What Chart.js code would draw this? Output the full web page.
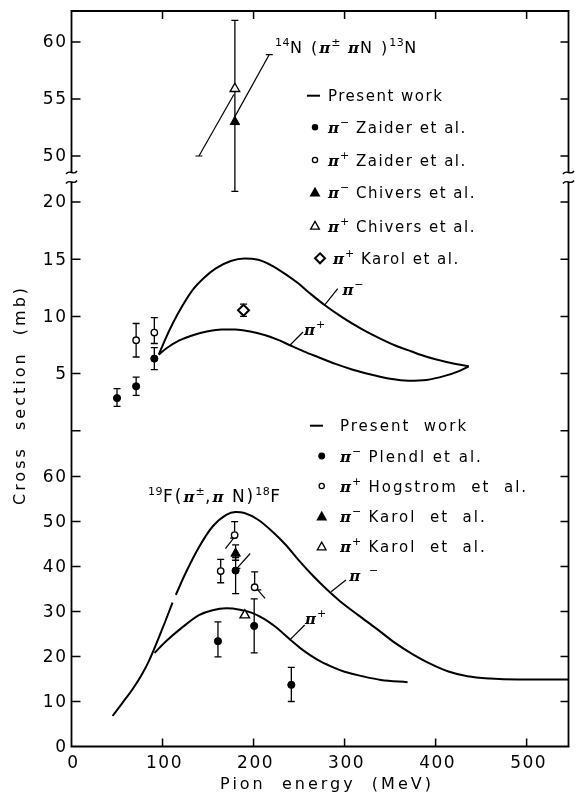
<!DOCTYPE html>
<html lang="en">
<head>
<meta charset="UTF-8">
<title>Pion knockout cross sections</title>
<script src="https://cdn.jsdelivr.net/npm/chart.js"></script>
<style>
  html, body { margin: 0; padding: 0; background: #fff; }
  #wrap { width: 576px; height: 795px; }
</style>
</head>
<body>
<div id="wrap"><canvas id="c"></canvas></div>
<script>
// ---- 14N(pi, piN)13N : present work curves (MeV, mb) ----
const nMinusE = [95.9, 103, 111.2, 122, 133, 146, 158.5, 175, 190, 205, 220, 235, 249, 263, 278, 298, 318, 337, 355, 373, 391, 413, 436.4];
const nMinusS = [6.66, 8.0, 9.38, 10.95, 12.3, 13.4, 14.2, 14.85, 15.07, 14.95, 14.45, 13.7, 12.9, 11.95, 11.0, 9.9, 8.94, 8.15, 7.48, 6.95, 6.45, 6.0, 5.64];
const nPlusE = [95.9, 104, 118.5, 135, 150, 165, 180, 195, 213, 227, 240, 255, 270, 290, 310, 330, 350, 370, 390, 410, 425, 436.4];
const nPlusS = [6.66, 7.2, 7.9, 8.4, 8.7, 8.85, 8.85, 8.7, 8.35, 7.95, 7.48, 6.95, 6.47, 5.85, 5.32, 4.9, 4.55, 4.38, 4.45, 4.8, 5.2, 5.64];
// present work, upper (broken) section
const nWorkAE = [140, 178.4];
const nWorkAS = [50.0, 55.4];
const nWorkBE = [217.3, 178.4];
const nWorkBS = [58.9, 53.3];
// other measurements, 14N
const zaiderMinusE = [50, 71, 91];
const zaiderMinusS = [2.86, 3.89, 6.31];
const zaiderMinusLo = [2.14, 3.10, 5.35];
const zaiderMinusHi = [3.69, 4.70, 7.27];
const zaiderPlusE = [71, 91];
const zaiderPlusS = [7.92, 8.59];
const zaiderPlusLo = [6.45, 7.63];
const zaiderPlusHi = [9.38, 9.90];
const chiversMinusE = [179.5];
const chiversMinusS = [53.0];
const chiversMinusLo = [46.9];
const chiversMinusHi = [61.9];
const chiversPlusE = [179.5];
const chiversPlusS = [55.9];
const karolNPlusE = [189];
const karolNPlusS = [10.54];
const karolNPlusLo = [10.0];
const karolNPlusHi = [11.07];

// ---- 19F(pi, piN)18F ----
const fMinusAE = [45.1, 56, 67.6, 77, 85.5, 100.3, 111];
const fMinusAS = [6.78, 9.7, 12.9, 15.9, 19.2, 26.4, 32.0];
const fMinusBE = [114.6, 125, 140, 155, 170, 180, 190, 205, 220, 235, 250, 265, 280, 295, 315, 335, 355, 375, 395, 415, 435, 460, 490, 547];
const fMinusBS = [33.7, 38.4, 44.3, 48.9, 51.5, 52.1, 51.9, 50.4, 47.9, 44.9, 41.3, 38.0, 35.0, 32.3, 29.2, 26.2, 23.1, 20.5, 18.3, 16.6, 15.6, 15.1, 14.9, 14.9];
const fPlusE = [91.2, 105, 120, 140, 155, 170, 185, 198.4, 212, 224, 240, 255, 270, 285, 300, 320, 340, 369.2];
const fPlusS = [20.8, 23.6, 26.2, 29.2, 30.3, 30.7, 30.4, 29.7, 28.3, 26.6, 23.8, 21.3, 19.3, 17.8, 16.6, 15.6, 14.8, 14.3];
const plendlE = [160.9, 180.3, 200.7, 241.5];
const plendlS = [23.4, 39.1, 26.8, 13.7];
const plendlLo = [19.9, 34.0, 20.8, 10.0];
const plendlHi = [27.7, 42.0, 32.8, 17.6];
const hogstromE = [163.9, 179.2, 201.2];
const hogstromS = [39.0, 47.0, 35.4];
const hogstromLo = [36.4, 47.0, 35.4];
const hogstromHi = [41.6, 50.0, 38.8];
const karolFMinusE = [180.3];
const karolFMinusS = [42.9];
const karolFMinusLo = [41.4];
const karolFMinusHi = [44.8];
const karolFPlusE = [190.4];
const karolFPlusS = [29.2];
// short present-work strokes beside the points
const tail1E = [178.1, 169.1];
const tail1S = [46.3, 44.0];
const tail2E = [181.7, 196.3];
const tail2S = [39.6, 42.9];
const tail3E = [204.6, 212.6];
const tail3S = [34.8, 32.9];

// ---- axes ----
const xTicks = [0, 100, 200, 300, 400, 500];
const topTicks = [50, 55, 60];
const midTicks = [0, 5, 10, 15, 20];
const midLabels = ['', '5', '10', '15', '20'];
const lowTicks = [0, 10, 20, 30, 40, 50, 60];

const pts = (xs, ys) => xs.map((x, i) => ({ x: x, y: ys[i] }));

function curve(xs, ys, axis) {
  return { data: pts(xs, ys), yAxisID: axis, borderColor: '#000', borderWidth: 2,
    pointRadius: 0, cubicInterpolationMode: 'monotone', fill: false };
}
function stroke(xs, ys, axis) {
  return { data: pts(xs, ys), yAxisID: axis, borderColor: '#000', borderWidth: 1.2,
    pointStyle: 'line', pointRadius: [3.5, 0], pointBorderWidth: 1.2,
    pointBorderColor: '#000', fill: false };
}
function marks(xs, ys, axis, style, filled, r, lo, hi) {
  return { data: pts(xs, ys), yAxisID: axis, showLine: false, pointStyle: style,
    pointRadius: r, pointBorderWidth: filled ? 1 : 1.4, pointBorderColor: '#000',
    pointBackgroundColor: filled ? '#000' : '#fff', errLo: lo, errHi: hi };
}

const datasets = [
  marks(chiversPlusE, chiversPlusS, 'yTop', 'triangle', false, 5.5),
  marks(chiversMinusE, chiversMinusS, 'yTop', 'triangle', true, 5.5, chiversMinusLo, chiversMinusHi),
  marks(zaiderMinusE, zaiderMinusS, 'yMid', 'circle', true, 3.6, zaiderMinusLo, zaiderMinusHi),
  marks(zaiderPlusE, zaiderPlusS, 'yMid', 'circle', false, 3.2, zaiderPlusLo, zaiderPlusHi),
  marks(karolNPlusE, karolNPlusS, 'yMid', 'rectRot', false, 5.5, karolNPlusLo, karolNPlusHi),
  marks(karolFPlusE, karolFPlusS, 'yLow', 'triangle', false, 5.5),
  marks(karolFMinusE, karolFMinusS, 'yLow', 'triangle', true, 5.5, karolFMinusLo, karolFMinusHi),
  marks(hogstromE, hogstromS, 'yLow', 'circle', false, 3.2, hogstromLo, hogstromHi),
  marks(plendlE, plendlS, 'yLow', 'circle', true, 3.6, plendlLo, plendlHi),
  stroke(nWorkAE, nWorkAS, 'yTop'),
  stroke(nWorkBE, nWorkBS, 'yTop'),
  stroke(tail1E, tail1S, 'yLow'),
  stroke(tail2E, tail2S, 'yLow'),
  stroke(tail3E, tail3S, 'yLow'),
  curve(nMinusE, nMinusS, 'yMid'),
  curve(nPlusE, nPlusS, 'yMid'),
  curve(fMinusAE, fMinusAS, 'yLow'),
  curve(fMinusBE, fMinusBS, 'yLow'),
  curve(fPlusE, fPlusS, 'yLow')
];
datasets[4].pointBorderWidth = 2;

const SANS = 'DejaVu Sans';
const PI_FONT = 'bold italic 15px "DejaVu Serif"';

// draw text runs: n = normal, p = pi, s = superscript
function rich(ctx, x, y, parts, size, spacing) {
  ctx.textBaseline = 'alphabetic';
  ctx.textAlign = 'left';
  for (const [txt, kind] of parts) {
    let dy = 0;
    if (kind === 'p') { ctx.font = PI_FONT; ctx.letterSpacing = '0px'; }
    else if (kind === 's') { ctx.font = '11px ' + SANS; ctx.letterSpacing = '0.5px'; dy = -7; }
    else { ctx.font = size + 'px ' + SANS; ctx.letterSpacing = spacing + 'px'; }
    ctx.fillText(txt, x, y + dy);
    x += ctx.measureText(txt).width + (kind === 'p' ? 1 : 0);
  }
  ctx.letterSpacing = '0px';
}

function squiggle(ctx, x, y) {
  ctx.beginPath();
  ctx.moveTo(x - 5.5, y + 1.5);
  ctx.bezierCurveTo(x - 2, y - 4, x + 2, y + 4, x + 5.5, y - 1.5);
  ctx.stroke();
}

function sym(ctx, style, x, y, r, filled) {
  ctx.save();
  ctx.fillStyle = filled ? '#000' : '#fff';
  ctx.strokeStyle = '#000';
  ctx.lineWidth = style === 'diamond' ? 2 : 1.3;
  ctx.beginPath();
  if (style === 'circle') ctx.arc(x, y, r, 0, Math.PI * 2);
  else if (style === 'tri') { ctx.moveTo(x, y - r); ctx.lineTo(x + r * 0.95, y + r * 0.7); ctx.lineTo(x - r * 0.95, y + r * 0.7); ctx.closePath(); }
  else if (style === 'diamond') { ctx.moveTo(x, y - r); ctx.lineTo(x + r, y); ctx.lineTo(x, y + r); ctx.lineTo(x - r, y); ctx.closePath(); }
  else if (style === 'dash') { ctx.moveTo(x - 7, y); ctx.lineTo(x + 6, y); ctx.lineWidth = 2; }
  if (style !== 'dash') ctx.fill();
  ctx.stroke();
  ctx.restore();
}

const errorBars = {
  id: 'errorBars',
  beforeDatasetsDraw(chart) {
    const ctx = chart.ctx;
    ctx.save();
    ctx.strokeStyle = '#000';
    ctx.lineWidth = 1.3;
    chart.data.datasets.forEach((ds, i) => {
      if (!ds.errLo) return;
      const meta = chart.getDatasetMeta(i);
      const ys = chart.scales[ds.yAxisID];
      meta.data.forEach((el, j) => {
        const x = el.x;
        const v = ds.data[j].y;
        const a = ys.getPixelForValue(ds.errLo[j]);
        const b = ys.getPixelForValue(ds.errHi[j]);
        ctx.beginPath();
        ctx.moveTo(x, a); ctx.lineTo(x, b);
        if (ds.errLo[j] < v) { ctx.moveTo(x - 3.5, a); ctx.lineTo(x + 3.5, a); }
        if (ds.errHi[j] > v) { ctx.moveTo(x - 3.5, b); ctx.lineTo(x + 3.5, b); }
        ctx.stroke();
      });
    });
    ctx.restore();
  }
};

const frame = {
  id: 'frame',
  afterDraw(chart) {
    const ctx = chart.ctx;
    const a = chart.chartArea;
    const sx = chart.scales.x, sT = chart.scales.yTop, sM = chart.scales.yMid, sL = chart.scales.yLow;
    const brk = sT.bottom;
    ctx.save();
    ctx.strokeStyle = '#000';
    ctx.fillStyle = '#000';
    ctx.lineWidth = 1.8;
    ctx.beginPath();
    // left and right sides, interrupted at the break
    for (const x of [a.left, a.right]) {
      ctx.moveTo(x, a.top); ctx.lineTo(x, brk - 4.5);
      ctx.moveTo(x, brk + 5); ctx.lineTo(x, a.bottom);
    }
    ctx.moveTo(a.left - 1, a.top); ctx.lineTo(a.right + 1, a.top);
    ctx.moveTo(a.left - 1, a.bottom); ctx.lineTo(a.right + 1, a.bottom);
    ctx.stroke();
    ctx.lineWidth = 1.4;
    for (const x of [a.left, a.right]) {
      squiggle(ctx, x, brk - 4.5);
      squiggle(ctx, x, brk + 5);
    }
    // ticks, all pointing inwards
    ctx.lineWidth = 1.5;
    ctx.beginPath();
    xTicks.forEach(v => {
      if (v === 0) return;
      const x = sx.getPixelForValue(v);
      ctx.moveTo(x, a.top); ctx.lineTo(x, a.top + 8);
      ctx.moveTo(x, a.bottom); ctx.lineTo(x, a.bottom - 8);
    });
    const yt = [];
    topTicks.forEach(v => yt.push([sT.getPixelForValue(v), String(v)]));
    midTicks.forEach((v, i) => yt.push([sM.getPixelForValue(v), midLabels[i]]));
    lowTicks.forEach(v => yt.push([sL.getPixelForValue(v), String(v)]));
    yt.forEach(([y]) => {
      if (Math.abs(y - a.bottom) < 1) return;
      ctx.moveTo(a.left, y); ctx.lineTo(a.left + 9, y);
      ctx.moveTo(a.right, y); ctx.lineTo(a.right - 8, y);
    });
    ctx.stroke();

    // tick labels
    ctx.font = '17px ' + SANS;
    ctx.letterSpacing = '1.5px';
    ctx.textBaseline = 'middle';
    ctx.textAlign = 'right';
    yt.forEach(([y, t]) => { if (t) ctx.fillText(t, a.left - 4, y + 1); });
    ctx.textAlign = 'center';
    xTicks.forEach(v => ctx.fillText(String(v), sx.getPixelForValue(v) + 2, a.bottom + 17));

    // axis titles
    ctx.font = '16px ' + SANS;
    ctx.letterSpacing = '3px';
    ctx.fillText('Pion  energy  (MeV)', 327, 785);
    ctx.save();
    ctx.translate(21, 395);
    ctx.rotate(-Math.PI / 2);
    ctx.letterSpacing = '3px';
    ctx.fillText('Cross  section  (mb)', 0, 0);
    ctx.restore();
    ctx.letterSpacing = '0px';

    // reaction labels
    rich(ctx, 275, 53, [['14', 's'], ['N (', 'n'], ['π', 'p'], ['±', 's'], [' ', 'n'], ['π', 'p'], ['N )', 'n'], ['13', 's'], ['N', 'n']], 16, 2);
    rich(ctx, 148, 502, [['19', 's'], ['F(', 'n'], ['π', 'p'], ['±', 's'], [',', 'n'], ['π', 'p'], [' N)', 'n'], ['18', 's'], ['F', 'n']], 17, 2);

    // legend, 14N
    sym(ctx, 'dash', 314, 95.7, 0, true);
    rich(ctx, 328, 101, [['Present work', 'n']], 15, 1.5);
    const upRows = [
      ['circle', 2.6, true, 127.3, '−', ' Zaider et al.'],
      ['circle', 2.6, false, 160, '+', ' Zaider et al.'],
      ['tri', 4.6, true, 192.7, '−', ' Chivers et al.'],
      ['tri', 4.6, false, 226, '+', ' Chivers et al.']
    ];
    upRows.forEach(([s, r, f, y, sg, txt]) => {
      sym(ctx, s, 315, y, r, f);
      rich(ctx, 328, y + 5.5, [['π', 'p'], [sg, 's'], [txt, 'n']], 15, 1.5);
    });
    sym(ctx, 'diamond', 320, 258.3, 5, false);
    rich(ctx, 333, 263.8, [['π', 'p'], ['+', 's'], [' Karol et al.', 'n']], 15, 1.5);

    // legend, 19F
    sym(ctx, 'dash', 317, 425.7, 0, true);
    rich(ctx, 340, 431.2, [['Present  work', 'n']], 15, 2);
    const lowRows = [
      ['circle', 2.8, true, 456, '−', ' Plendl et al.'],
      ['circle', 2.6, false, 486, '+', ' Hogstrom  et  al.'],
      ['tri', 4.6, true, 516.7, '−', ' Karol  et  al.'],
      ['tri', 4.6, false, 546.7, '+', ' Karol  et  al.']
    ];
    lowRows.forEach(([s, r, f, y, sg, txt]) => {
      sym(ctx, s, 321.7, y, r, f);
      rich(ctx, 340, y + 5.5, [['π', 'p'], [sg, 's'], [txt, 'n']], 15, 2);
    });

    // curve tags with leader lines (data units)
    const tags = [
      [sM, 278.0, 10.98, 292.5, 12.44, 297.6, 11.86, '−', false],
      [sM, 239.9, 7.48, 254.4, 8.64, 255.5, 8.35, '+', false],
      [sL, 285.2, 34.4, 301.5, 37.0, 305.2, 36.8, '−', true],
      [sL, 239.9, 23.7, 256.2, 27.0, 256.5, 27.2, '+', false]
    ];
    ctx.lineWidth = 1.2;
    tags.forEach(([ys, x0, y0, x1, y1, tx, ty, sg, gap]) => {
      ctx.beginPath();
      ctx.moveTo(sx.getPixelForValue(x0), ys.getPixelForValue(y0));
      ctx.lineTo(sx.getPixelForValue(x1), ys.getPixelForValue(y1));
      ctx.stroke();
      const parts = gap ? [['π', 'p'], ['  ', 'n'], [sg, 's']] : [['π', 'p'], [sg, 's']];
      rich(ctx, sx.getPixelForValue(tx), ys.getPixelForValue(ty), parts, 12, 0);
    });
    ctx.restore();
  }
};

const yCommon = {
  type: 'linear', position: 'left', stack: 'ax',
  ticks: { display: false }, grid: { display: false }, border: { display: false },
  afterFit: s => { s.width = 71.5; }
};

new Chart(document.getElementById('c'), {
  type: 'line',
  data: { datasets: datasets },
  options: {
    responsive: true,
    maintainAspectRatio: false,
    animation: false,
    events: [],
    layout: { padding: { top: 11, right: 3, left: 0, bottom: 0 } },
    plugins: { legend: { display: false }, tooltip: { enabled: false } },
    scales: {
      x: { type: 'linear', min: 0, max: 546, ticks: { display: false },
        grid: { display: false }, border: { display: false },
        afterFit: s => { s.height = 48.5; } },
      yLow: Object.assign({}, yCommon, { min: 0, max: 65.9, stackWeight: 296.5 }),
      yMid: Object.assign({}, yCommon, { min: -1.68, max: 22.19, stackWeight: 273 }),
      yTop: Object.assign({}, yCommon, { min: 48.16, max: 62.72, stackWeight: 166 })
    }
  },
  plugins: [errorBars, frame]
});
</script>
</body>
</html>
